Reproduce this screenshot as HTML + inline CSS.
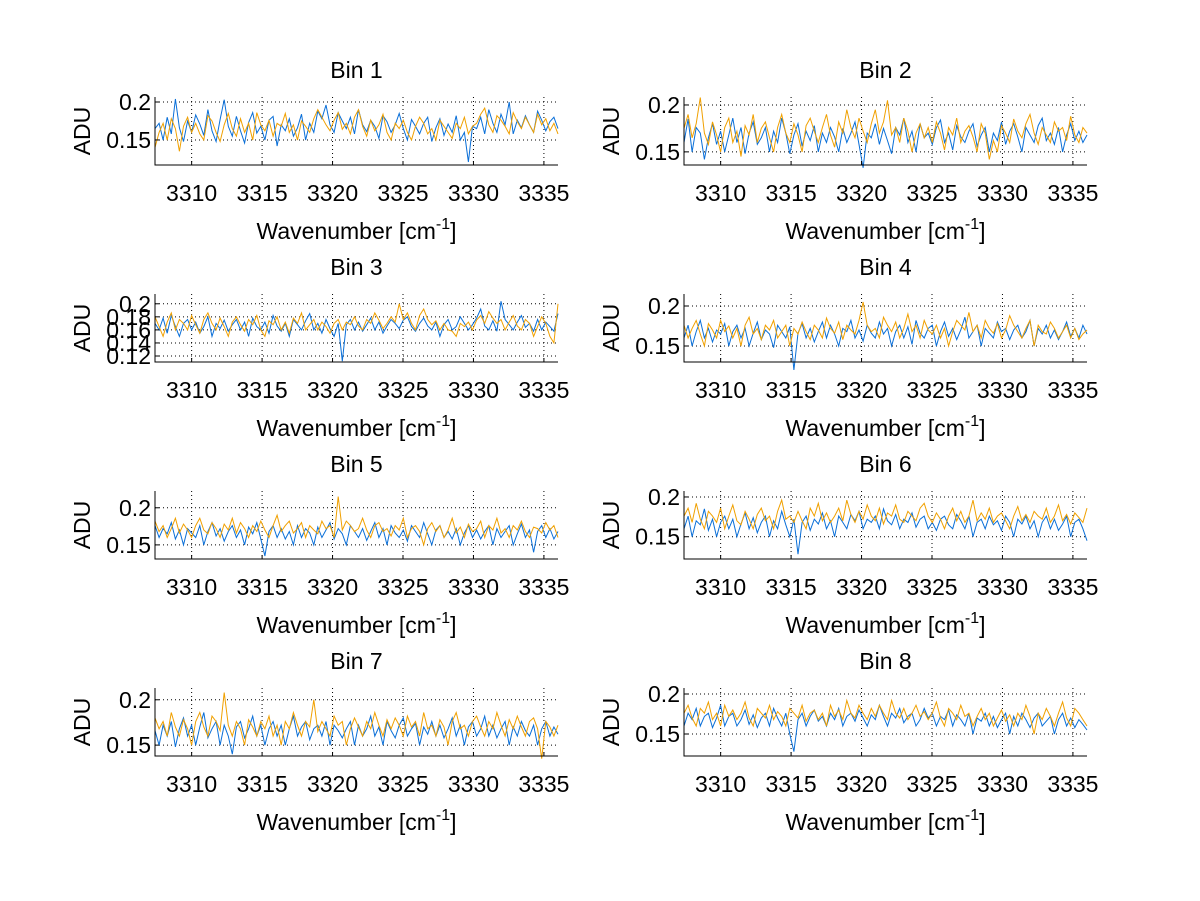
<!DOCTYPE html>
<html><head><meta charset="utf-8"><style>
body{margin:0;background:#fff;}
svg{display:block;font-family:"Liberation Sans",Arial,sans-serif;}
</style></head><body>
<svg id="fig" width="1200" height="901" viewBox="0 0 1200 901"></svg>
<script>
// x range (wavenumber) and ticks
const xMin = 3307.4, xMax = 3336.0;
const xTicks = [3310, 3315, 3320, 3325, 3330, 3335];
const binTitles = ["Bin 1","Bin 2","Bin 3","Bin 4","Bin 5","Bin 6","Bin 7","Bin 8"];
const yLims = [[0.117,0.2066],[0.136,0.2085],[0.1108,0.215],[0.13,0.215],[0.131,0.2226],[0.122,0.2075],[0.138,0.213],[0.1225,0.2075]];
const yTicks = [[0.15,0.2],[0.15,0.2],[0.12,0.14,0.16,0.18,0.2],[0.15,0.2],[0.15,0.2],[0.15,0.2],[0.15,0.2],[0.15,0.2]];
// series values in ADU x 1000 (blue, orange) per bin
const blue1 = [165,172,150,180,158,204,166,148,175,160,183,171,156,190,162,148,177,203,168,155,181,162,146,173,186,159,168,150,176,181,142,170,162,178,155,166,184,150,172,160,188,178,196,170,160,186,175,165,180,158,190,170,161,176,168,152,182,174,160,170,185,165,150,177,168,158,172,180,148,166,178,156,171,160,182,150,160,121,168,165,180,158,190,172,160,184,170,200,158,176,166,182,170,160,188,176,162,174,180,165];
const orange1 = [140,160,172,150,178,165,135,168,180,160,172,158,150,182,175,160,148,170,185,165,155,178,160,172,150,186,170,162,176,155,172,168,185,160,170,150,175,168,160,178,190,180,170,162,176,186,164,172,158,180,190,168,155,176,162,170,184,160,150,172,165,176,160,150,168,180,172,158,165,150,176,168,160,152,172,165,180,158,168,172,184,192,170,160,182,176,168,158,186,174,165,180,170,160,184,170,178,162,172,158];
const blue2 = [160,185,150,176,170,142,165,180,158,172,150,168,186,160,176,148,170,182,158,165,176,150,172,160,186,170,148,168,180,156,172,162,178,150,170,160,176,166,150,175,160,170,182,158,133,170,165,180,158,175,162,148,176,168,186,160,172,150,180,165,170,158,176,184,160,170,152,178,166,160,172,180,156,168,176,150,170,162,182,158,172,180,166,150,176,168,160,178,186,162,170,158,176,150,168,180,162,172,160,168];
const orange2 = [175,190,165,180,208,170,158,182,168,150,176,186,160,172,145,178,168,190,160,175,182,165,150,176,190,170,160,180,168,150,178,186,172,160,176,190,168,155,182,170,195,176,165,186,172,160,180,195,170,182,205,168,176,160,186,172,150,170,180,165,176,160,182,170,152,176,168,186,160,172,178,166,150,180,170,142,162,150,178,170,160,185,172,165,180,190,170,158,176,168,160,182,172,176,162,188,168,160,176,170];
const blue3 = [170,160,178,155,182,165,150,170,176,160,172,155,165,180,150,170,162,175,158,168,176,160,172,150,178,165,160,172,155,182,166,158,170,150,176,168,160,174,185,160,170,155,176,162,150,170,112,168,176,160,172,158,168,178,160,172,155,166,176,170,162,175,180,165,158,170,178,166,160,172,150,168,176,160,165,180,170,160,168,178,192,166,160,174,158,204,176,168,160,172,182,164,170,158,176,160,172,165,158,185];
const orange3 = [180,165,150,172,186,160,176,170,160,182,168,155,176,186,170,160,178,165,150,172,180,168,158,176,168,182,160,150,174,168,180,160,172,155,178,170,186,160,168,176,160,172,165,155,170,176,160,172,168,180,166,160,176,170,186,175,162,170,180,172,200,176,186,170,160,182,192,176,168,174,160,170,160,158,150,170,165,172,160,175,182,170,188,178,170,176,160,172,182,166,160,176,170,150,165,180,170,150,140,200];
const blue4 = [160,176,150,168,182,160,172,155,170,165,178,150,168,176,160,172,150,166,180,158,170,165,148,176,168,160,174,120,166,178,160,172,155,168,180,160,176,165,150,172,168,182,160,170,156,176,166,160,180,165,172,150,168,176,160,174,152,182,166,160,172,176,150,168,180,162,172,158,170,186,160,168,176,150,172,166,160,180,168,172,158,170,176,160,168,182,150,172,165,176,160,170,158,168,180,162,172,160,176,165];
const orange4 = [176,160,172,182,165,150,178,170,160,182,168,175,160,172,150,176,186,165,172,158,176,170,182,160,168,176,150,172,165,180,168,158,176,170,160,185,172,166,180,158,176,170,165,182,205,176,168,172,160,186,176,168,180,160,172,190,168,176,160,182,170,165,176,160,172,150,168,182,176,170,192,168,176,160,182,172,166,178,160,170,188,176,168,160,172,182,150,176,168,165,180,172,160,168,176,160,172,158,165,170];
const blue5 = [176,160,172,165,180,158,170,150,172,166,160,176,150,168,180,162,172,155,168,176,160,170,150,174,165,180,158,135,168,176,160,172,158,168,150,176,160,172,166,150,174,160,170,180,158,172,165,150,176,168,160,172,156,168,180,160,172,150,176,166,160,170,155,176,168,160,180,165,150,170,176,160,168,158,172,150,166,176,160,170,158,168,176,150,172,160,168,176,150,165,178,160,170,140,168,176,160,172,158,168];
const orange5 = [182,168,176,160,172,186,166,178,170,160,176,186,170,165,180,172,160,178,170,186,166,180,172,160,176,168,182,170,160,176,190,168,176,182,166,172,180,160,176,170,165,182,172,176,160,215,170,182,176,168,172,186,170,160,176,180,168,172,162,176,170,186,160,172,176,168,150,172,180,168,176,160,170,186,166,174,160,178,168,172,182,160,176,170,186,166,172,160,176,170,182,168,160,174,172,166,180,170,176,160];
const blue6 = [160,176,150,170,165,185,158,172,150,168,176,160,172,150,166,180,160,174,155,168,176,150,170,160,182,165,150,172,128,168,176,158,172,166,180,160,170,150,176,168,160,178,170,182,160,172,168,176,160,185,170,165,178,160,172,168,180,162,172,176,160,168,158,172,176,165,160,178,170,160,176,150,168,172,160,176,165,170,158,176,168,150,172,166,176,160,170,150,168,176,160,172,158,166,176,150,168,172,160,145];
const orange6 = [176,186,168,192,172,160,182,176,168,186,160,176,190,170,165,182,172,160,178,186,170,176,160,182,196,172,176,168,182,170,160,186,176,192,170,180,168,176,186,170,196,178,168,182,172,190,176,170,186,166,180,176,190,172,168,182,176,170,186,192,176,168,180,172,160,176,186,170,182,168,176,196,170,180,172,186,168,176,180,170,160,176,188,170,178,168,182,176,172,186,168,176,190,170,178,166,180,174,168,186];
const blue7 = [166,150,172,160,176,148,168,180,160,172,150,170,186,158,168,176,150,172,160,140,170,176,158,168,182,160,172,150,168,176,160,172,150,168,182,160,170,176,156,168,172,160,176,150,172,166,158,168,176,150,172,160,168,182,160,170,150,176,166,158,172,180,160,168,174,150,170,162,176,160,172,158,168,180,160,172,150,170,176,160,168,182,160,172,158,168,176,150,170,160,176,166,160,172,150,168,176,160,170,162];
const orange7 = [180,168,176,160,186,170,160,178,168,150,176,186,170,160,182,176,166,208,172,160,176,168,150,178,170,160,176,168,182,160,172,150,176,168,186,172,160,176,170,200,165,176,168,160,182,172,176,150,168,180,170,160,176,168,186,172,160,178,168,180,172,160,182,170,176,160,186,168,172,160,178,170,150,176,186,168,172,160,176,182,170,160,176,168,186,172,160,178,168,182,170,160,176,180,168,135,176,170,160,172];
const blue8 = [160,176,168,182,160,172,176,158,170,186,160,172,176,160,168,180,162,174,158,170,176,160,182,170,160,176,150,128,168,176,160,172,180,166,172,160,176,168,182,160,172,176,166,180,170,160,174,168,186,172,160,176,170,182,164,172,176,160,168,182,170,176,160,172,168,180,160,174,168,160,176,150,170,166,176,160,172,158,168,176,150,172,160,176,168,158,170,176,160,166,172,150,168,176,160,170,158,168,162,155];
const orange8 = [176,186,170,160,182,176,190,168,176,160,186,172,180,168,176,190,170,160,182,176,170,186,168,178,172,160,182,176,170,186,166,176,180,168,176,160,186,172,180,168,192,176,170,186,176,168,182,172,186,176,168,192,176,170,182,168,176,186,172,178,168,176,190,170,160,182,176,168,186,172,176,160,172,182,168,176,160,170,180,166,174,160,176,168,186,172,150,176,168,182,172,160,176,190,170,160,182,176,168,160];
const blueSeries = [blue1,blue2,blue3,blue4,blue5,blue6,blue7,blue8];
const orangeSeries = [orange1,orange2,orange3,orange4,orange5,orange6,orange7,orange8];

const NS = "http://www.w3.org/2000/svg";
const svg = document.getElementById("fig");
function mk(tag, attrs, parent){const e=document.createElementNS(NS,tag);for(const k in attrs)e.setAttribute(k,attrs[k]);(parent||svg).appendChild(e);return e;}

for(let b=0;b<8;b++){
  const col=b%2,row=Math.floor(b/2);
  const L=155+col*529,R=558+col*529,T=97+row*197,B=165+row*197;
  const [y0,y1]=yLims[b];
  const xs=v=>L+(v-xMin)/(xMax-xMin)*(R-L);
  const ys=v=>B-(v-y0)/(y1-y0)*(B-T);
  const g=mk("g",{});
  
  
  xTicks.forEach(t=>{const l=mk("line",{x1:xs(t),x2:xs(t),y1:T,y2:B,stroke:"#000","stroke-width":1,"stroke-dasharray":"1,3"},g);
    });
  yTicks[b].forEach(t=>{const l=mk("line",{x1:L,x2:R,y1:ys(t),y2:ys(t),stroke:"#000","stroke-width":1,"stroke-dasharray":"1,3"},g);
    });
  [[blueSeries[b],"#0a6fd8","blue"],[orangeSeries[b],"#f0a000","orange"]].forEach(([arr,c,n])=>{
    const pts=arr.map((v,i)=>xs(xMin+i*(xMax-xMin)/(arr.length-1)).toFixed(1)+","+ys(v/1000).toFixed(1)).join(" ");
    const p=mk("polyline",{points:pts,fill:"none",stroke:c,"stroke-width":1},g);
    
  });
  const ax=mk("path",{d:`M${L},${T}V${B}H${R}`,fill:"none",stroke:"#000","stroke-width":1},g);
  
  xTicks.forEach(t=>{mk("line",{x1:xs(t),x2:xs(t),y1:B,y2:B-4,stroke:"#000"},g);
    const tx=mk("text",{x:xs(t),y:B+36,"text-anchor":"middle","font-size":23},g);tx.textContent=t;
    });
  yTicks[b].forEach(t=>{mk("line",{x1:L,x2:L+4,y1:ys(t),y2:ys(t),stroke:"#000"},g);
    const tx=mk("text",{x:L-4,y:ys(t)+8,"text-anchor":"end","font-size":23},g);tx.textContent=String(t);
    });
  const ti=mk("text",{x:(L+R)/2,y:T-19,"text-anchor":"middle","font-size":23},g);ti.textContent=binTitles[b];
  
  const xl=mk("text",{x:(L+R)/2,y:B+74,"text-anchor":"middle","font-size":23},g);
  xl.innerHTML='Wavenumber [cm<tspan dy="-10" font-size="16">-1</tspan><tspan dy="10">]</tspan>';
  
  const yl=mk("text",{x:0,y:0,"text-anchor":"middle","font-size":23,transform:`translate(${L-65},${(T+B)/2}) rotate(-90)`},g);
  yl.textContent="ADU";
  
}
</script>
</body></html>
